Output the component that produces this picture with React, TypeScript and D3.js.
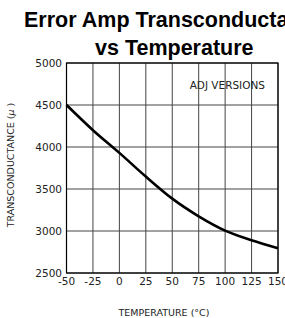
import React, { useEffect, useRef } from "react";
import * as d3 from "d3";

const temps = [-50, -25, 0, 25, 50, 75, 100, 125, 150];
const gm = [4500, 4200, 3930, 3648, 3385, 3175, 3005, 2890, 2795];
const xTicks = [-50, -25, 0, 25, 50, 75, 100, 125, 150];
const yTicks = [2500, 3000, 3500, 4000, 4500, 5000];

const App = () => {
  const chartRef = useRef<SVGSVGElement | null>(null);

  useEffect(() => {
    drawChart();
  }, []);

  const drawChart = () => {
    const width = 285;
    const height = 318;
    const left = 66.5;
    const right = 278;
    const top = 63;
    const bottom = 273;
    const labelFont = "DejaVu Sans, sans-serif";

    const svg = d3
      .select(chartRef.current)
      .attr("width", width)
      .attr("height", height);
    svg.selectAll("*").remove();

    const x = d3.scaleLinear().domain([-50, 150]).range([left, right]);
    const y = d3.scaleLinear().domain([2500, 5000]).range([bottom, top]);

    // title
    svg
      .append("text")
      .attr("x", 24)
      .attr("y", 27)
      .style("font-family", "Liberation Sans, Arial, sans-serif")
      .style("font-weight", "bold")
      .style("font-size", "21.5px")
      .text("Error Amp Transconductance");
    svg
      .append("text")
      .attr("x", 95)
      .attr("y", 55)
      .style("font-family", "Liberation Sans, Arial, sans-serif")
      .style("font-weight", "bold")
      .style("font-size", "21.5px")
      .text("vs Temperature");

    // grid
    svg
      .selectAll("line.vgrid")
      .data(xTicks)
      .enter()
      .append("line")
      .attr("class", "vgrid")
      .attr("x1", (d) => x(d))
      .attr("x2", (d) => x(d))
      .attr("y1", top)
      .attr("y2", bottom)
      .attr("stroke", "#444")
      .attr("stroke-width", 1);
    svg
      .selectAll("line.hgrid")
      .data(yTicks)
      .enter()
      .append("line")
      .attr("class", "hgrid")
      .attr("x1", left)
      .attr("x2", right)
      .attr("y1", (d) => y(d))
      .attr("y2", (d) => y(d))
      .attr("stroke", "#444")
      .attr("stroke-width", 1);

    svg
      .append("rect")
      .attr("x", left)
      .attr("y", top)
      .attr("width", right - left)
      .attr("height", bottom - top)
      .attr("fill", "none")
      .attr("stroke", "#000")
      .attr("stroke-width", 1.2);

    // tick labels
    svg
      .selectAll("text.ylab")
      .data(yTicks)
      .enter()
      .append("text")
      .attr("class", "ylab")
      .attr("x", 62)
      .attr("y", (d) => y(d) + 4)
      .attr("text-anchor", "end")
      .style("font-family", labelFont)
      .style("font-size", "10.5px")
      .style("fill", "#222")
      .text((d) => d);
    svg
      .selectAll("text.xlab")
      .data(xTicks)
      .enter()
      .append("text")
      .attr("class", "xlab")
      .attr("x", (d) => x(d))
      .attr("y", 285)
      .attr("text-anchor", "middle")
      .style("font-family", labelFont)
      .style("font-size", "10.5px")
      .style("fill", "#222")
      .text((d) => d);

    // axis titles
    svg
      .append("text")
      .attr("x", 164)
      .attr("y", 316)
      .attr("text-anchor", "middle")
      .style("font-family", labelFont)
      .style("font-size", "9.5px")
      .style("fill", "#222")
      .text("TEMPERATURE (°C)");
    svg
      .append("text")
      .attr("transform", "translate(14,165) rotate(-90)")
      .attr("text-anchor", "middle")
      .style("font-family", labelFont)
      .style("font-size", "9.5px")
      .style("fill", "#222")
      .text("TRANSCONDUCTANCE (")
      .append("tspan")
      .style("font-style", "italic")
      .text("\u03bc ")
      .append("tspan")
      .style("font-style", "normal")
      .text(")");

    svg
      .append("text")
      .attr("x", 265)
      .attr("y", 89)
      .attr("text-anchor", "end")
      .style("font-family", labelFont)
      .style("font-size", "10.5px")
      .style("fill", "#222")
      .text("ADJ VERSIONS");

    // curve
    const line = d3
      .line<number>()
      .x((d, i) => x(temps[i]))
      .y((d) => y(d))
      .curve(d3.curveMonotoneX);

    svg
      .append("path")
      .attr("d", line(gm))
      .attr("fill", "none")
      .attr("stroke", "#000")
      .attr("stroke-width", 2.6);
  };

  return (
    <svg
      ref={chartRef}
      style={{ position: "absolute", left: 0, top: 0, background: "#fff" }}
    ></svg>
  );
};

export default App;
